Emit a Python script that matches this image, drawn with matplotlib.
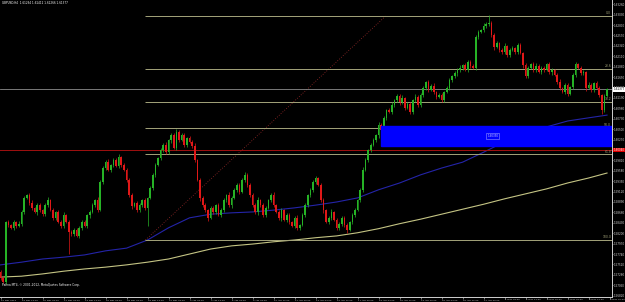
import matplotlib
matplotlib.use("Agg")
import matplotlib.pyplot as plt
from matplotlib.patches import Rectangle

# ---------- data (GBPUSD H4) ----------
first_open = 1.5735
closes = [
    1.5721, 1.5712, 1.5845, 1.5838, 1.5832, 1.5845, 1.5836, 1.5840, 1.5867, 1.5898,
    1.5904, 1.5887, 1.5876, 1.5867, 1.5882, 1.5871, 1.5862, 1.5882, 1.5893, 1.5871,
    1.5854, 1.5867, 1.5845, 1.5836, 1.5860, 1.5845, 1.5823, 1.5818, 1.5827, 1.5814,
    1.5832, 1.5845, 1.5836, 1.5860, 1.5867, 1.5882, 1.5893, 1.5871, 1.5933, 1.5964,
    1.5977, 1.5960, 1.5971, 1.5982, 1.5969, 1.5988, 1.5971, 1.5960, 1.5938, 1.5904,
    1.5880, 1.5887, 1.5871, 1.5882, 1.5893, 1.5876, 1.5898, 1.5920, 1.5949, 1.5971,
    1.5986, 1.6004, 1.6015, 1.5999, 1.6026, 1.6037, 1.6008, 1.6044, 1.6026, 1.6037,
    1.6015, 1.6030, 1.6022, 1.6013, 1.5982, 1.5938, 1.5898, 1.5882, 1.5871, 1.5854,
    1.5876, 1.5867, 1.5882, 1.5860, 1.5871, 1.5893, 1.5904, 1.5882, 1.5898, 1.5916,
    1.5927, 1.5911, 1.5938, 1.5949, 1.5927, 1.5904, 1.5882, 1.5867, 1.5893, 1.5882,
    1.5860, 1.5876, 1.5893, 1.5904, 1.5882, 1.5867, 1.5854, 1.5871, 1.5849, 1.5860,
    1.5845, 1.5836, 1.5854, 1.5832, 1.5838, 1.5860, 1.5882, 1.5904, 1.5916, 1.5933,
    1.5942, 1.5927, 1.5893, 1.5871, 1.5845, 1.5854, 1.5867, 1.5849, 1.5832, 1.5840,
    1.5854, 1.5838, 1.5827, 1.5845, 1.5860, 1.5871, 1.5893, 1.5916, 1.5960, 1.5982,
    1.6004, 1.6015, 1.6026, 1.6037, 1.6059, 1.6048, 1.6075, 1.6092, 1.6088, 1.6103,
    1.6114, 1.6123, 1.6110, 1.6119, 1.6097, 1.6106, 1.6088, 1.6114, 1.6121, 1.6103,
    1.6125, 1.6141, 1.6154, 1.6137, 1.6145, 1.6132, 1.6121, 1.6125, 1.6114, 1.6132,
    1.6141, 1.6159, 1.6167, 1.6174, 1.6181, 1.6185, 1.6192, 1.6181, 1.6198, 1.6190,
    1.6185, 1.6254, 1.6265, 1.6269, 1.6278, 1.6282, 1.6285, 1.6258, 1.6232, 1.6240,
    1.6225, 1.6220, 1.6234, 1.6214, 1.6225, 1.6229, 1.6220, 1.6236, 1.6218, 1.6192,
    1.6167, 1.6185, 1.6194, 1.6181, 1.6190, 1.6176, 1.6185, 1.6181, 1.6194, 1.6176,
    1.6181, 1.6170, 1.6154, 1.6141, 1.6132, 1.6148, 1.6128, 1.6143, 1.6170, 1.6194,
    1.6185, 1.6174, 1.6176, 1.6141, 1.6148, 1.6137, 1.6152, 1.6141, 1.6125, 1.6092,
    1.6123, 1.6138,
]
# wick lengths in pips above / below the candle body
up_wick = [
    3, 4, 2, 5, 3, 4, 3, 6, 4, 5, 3, 4, 6, 3, 4, 5, 3, 4, 6, 3,
    4, 3, 5, 4, 6, 3, 4, 3, 5, 4, 3, 4, 5, 3, 4, 5, 3, 6, 4, 5,
    4, 6, 3, 5, 4, 8, 3, 4, 3, 4, 5, 3, 4, 5, 3, 4, 3, 4, 5, 4,
    3, 5, 4, 6, 3, 5, 4, 7, 3, 4, 5, 3, 4, 5, 6, 3, 4, 5, 4, 3,
    4, 5, 3, 4, 5, 4, 3, 6, 4, 5, 3, 4, 5, 6, 4, 3, 5, 4, 6, 3,
    4, 5, 3, 4, 6, 3, 4, 5, 3, 4, 5, 3, 4, 6, 3, 5, 4, 3, 5, 4,
    5, 3, 4, 5, 3, 4, 6, 3, 4, 5, 3, 4, 5, 3, 4, 5, 3, 4, 6, 4,
    3, 5, 4, 3, 6, 4, 5, 3, 4, 6, 3, 5, 4, 6, 3, 4, 5, 3, 6, 4,
    5, 4, 3, 5, 4, 6, 3, 5, 4, 3, 4, 5, 3, 4, 5, 6, 3, 4, 5, 4,
    3, 4, 5, 3, 6, 4, 17, 3, 4, 5, 3, 4, 6, 3, 4, 5, 3, 4, 5, 3,
    4, 5, 3, 4, 6, 3, 4, 5, 3, 4, 5, 3, 4, 6, 3, 4, 5, 3, 4, 5,
    3, 4, 5, 3, 6, 4, 3, 5, 4, 3, 4, 3,
]
down_wick = [
    4, 3, 5, 4, 3, 5, 4, 3, 4, 5, 3, 4, 5, 3, 6, 4, 3, 5, 4, 3,
    5, 4, 3, 5, 4, 3, 50, 4, 5, 3, 4, 5, 3, 4, 6, 3, 4, 5, 3, 4,
    5, 3, 4, 5, 3, 6, 4, 3, 5, 4, 6, 3, 4, 5, 3, 4, 40, 3, 4, 5,
    3, 4, 5, 3, 4, 6, 3, 4, 5, 3, 4, 5, 3, 4, 5, 3, 6, 4, 5, 8,
    3, 4, 5, 3, 4, 5, 3, 4, 6, 3, 4, 5, 3, 4, 5, 3, 4, 5, 6, 3,
    4, 5, 3, 4, 5, 3, 4, 6, 3, 4, 5, 3, 4, 5, 6, 3, 4, 5, 3, 4,
    5, 3, 4, 6, 3, 4, 5, 3, 4, 5, 3, 4, 6, 3, 4, 5, 3, 4, 5, 3,
    4, 5, 3, 4, 6, 3, 4, 5, 3, 4, 5, 3, 6, 4, 5, 3, 4, 5, 3, 4,
    5, 3, 4, 6, 3, 4, 5, 3, 4, 5, 3, 4, 5, 3, 6, 4, 5, 3, 4, 5,
    3, 4, 5, 3, 4, 5, 3, 4, 6, 3, 4, 5, 3, 4, 5, 3, 4, 5, 3, 6,
    4, 5, 3, 4, 5, 3, 4, 5, 3, 4, 6, 3, 4, 5, 3, 4, 5, 3, 4, 5,
    3, 4, 5, 6, 3, 4, 5, 3, 4, 8, 4, 3,
]

# moving averages, read every 8 bars
ma_bars = [0, 8, 16, 24, 32, 40, 48, 56, 64, 72, 80, 88, 96, 104, 112, 120,
           128, 136, 144, 152, 160, 168, 176, 184, 192, 200, 208, 216, 224, 231]
ma_blue = [1.5750, 1.5756, 1.5763, 1.5767, 1.5772, 1.5781, 1.5787, 1.5805, 1.5832, 1.5854,
           1.5862, 1.5865, 1.5867, 1.5871, 1.5876, 1.5882, 1.5889, 1.5898, 1.5916, 1.5931,
           1.5949, 1.5964, 1.5977, 1.5999, 1.6022, 1.6039, 1.6055, 1.6068, 1.6075, 1.6081]
ma_yellow = [1.5723, 1.5725, 1.5730, 1.5736, 1.5741, 1.5745, 1.5750, 1.5756, 1.5763, 1.5774,
             1.5785, 1.5792, 1.5796, 1.5801, 1.5805, 1.5810, 1.5814, 1.5821, 1.5830, 1.5841,
             1.5851, 1.5862, 1.5873, 1.5884, 1.5896, 1.5907, 1.5918, 1.5931, 1.5942, 1.5953]

fib_start_bar = 55.2
fib_end_bar = 146.7
fib_low = 1.5805
fib_high = 1.6300
fib_levels = [0.0, 23.6, 38.2, 50.0, 61.8, 100.0]

zone_left_bar = 144.8
zone_top = 1.6057
zone_bottom = 1.6013
red_level = 1.6004
bid = 1.61377

time_labels = ["16 Mar 2012", "19 Mar 12:00", "20 Mar 20:00", "22 Mar 04:00", "23 Mar 12:00",
               "26 Mar 20:00", "28 Mar 04:00", "29 Mar 12:00", "30 Mar 20:00", "3 Apr 04:00",
               "4 Apr 12:00", "5 Apr 20:00", "9 Apr 04:00", "10 Apr 12:00", "11 Apr 20:00",
               "13 Apr 04:00", "16 Apr 12:00", "17 Apr 20:00", "19 Apr 04:00", "20 Apr 12:00",
               "23 Apr 20:00", "25 Apr 04:00", "26 Apr 12:00", "27 Apr 20:00", "1 May 04:00",
               "2 May 12:00", "3 May 20:00", "7 May 04:00", "8 May 12:00", "9 May 20:00"]
price_ticks = [1.5682 + 0.0023 * k for k in range(29)]

# ---------- figure ----------
W, H = 625, 302
fig = plt.figure(figsize=(W / 100, H / 100), dpi=100, facecolor="black")
ax = fig.add_axes([0, 5 / H, 612 / W, 297 / H], facecolor="black")
ax.set_xlim(-0.2, 232.9)
ax.set_ylim(1.5679, 1.63354)

green = "#26b326"
red = "#e01818"
fibc = "#a4a47a"

# moving averages
ax.plot(ma_bars, ma_yellow, color="#c4c484", lw=0.8, zorder=2)
ax.plot(ma_bars, ma_blue, color="#2424a8", lw=0.8, zorder=2)

# candles
opens = [first_open] + closes[:-1]
for i, (o, c) in enumerate(zip(opens, closes)):
    col = green if c >= o else red
    hi = max(o, c) + up_wick[i] * 0.0001
    lo = min(o, c) - down_wick[i] * 0.0001
    ax.vlines(i, lo, hi, color=col, lw=0.5, zorder=3)
    ax.bar(i, max(abs(c - o), 0.00005), bottom=min(o, c), width=0.62,
           color=col, linewidth=0, zorder=3)

# fibonacci retracement
ax.plot([fib_start_bar, fib_end_bar], [fib_low, fib_high], color="#9a2a2a",
        lw=0.6, ls=(0, (1, 2)), zorder=2)
for lv in fib_levels:
    p = fib_high - (fib_high - fib_low) * lv / 100
    ax.hlines(p, fib_start_bar, 233, color=fibc, lw=0.7, zorder=2)
    ax.text(232.6, p + 0.0002, f"{lv:.1f}", color=fibc, fontsize=2.2,
            ha="right", va="bottom", zorder=6)

# zone rectangle
ax.add_patch(Rectangle((zone_left_bar, zone_bottom), 240 - zone_left_bar,
                       zone_top - zone_bottom, color="#0000ff", zorder=4))
ax.text(187.5, (zone_top + zone_bottom) / 2, "1.60350", color="#c8c8ff", fontsize=2,
        ha="center", va="center", zorder=5,
        bbox=dict(boxstyle="square,pad=0.3", fc="#0000ff", ec="#9090ff", lw=0.4))

# horizontal lines
ax.axhline(red_level, color="#a01010", lw=0.7, zorder=2)
ax.axhline(bid, color="#8c8c8c", lw=0.6, zorder=2)

# axes styling
for s in ["top", "left"]:
    ax.spines[s].set_visible(False)
ax.spines["right"].set_color("#d0d0d0")
ax.spines["bottom"].set_color("#d0d0d0")
ax.spines["right"].set_linewidth(0.7)
ax.spines["bottom"].set_linewidth(0.7)
ax.yaxis.tick_right()
ax.set_yticks(price_ticks)
ax.set_yticklabels([f"{p:.5f}" for p in price_ticks])
ax.set_xticks(range(0, 8 * len(time_labels), 8))
ax.set_xticklabels(time_labels, ha="left")
ax.tick_params(axis="y", colors="#d0d0d0", labelsize=1.95, length=1.0, width=0.4, pad=0.5)
ax.tick_params(axis="x", colors="#d0d0d0", labelsize=1.75, length=1.2, width=0.4, pad=0.6)

# price boxes on the right axis
ax.text(233.5, bid, f"{bid:.5f}", color="black", fontsize=1.95, va="center", ha="left",
        bbox=dict(boxstyle="square,pad=0.12", fc="white", ec="none"), clip_on=False, zorder=7)
ax.text(233.5, red_level, f"{red_level:.5f}", color="white", fontsize=1.95, va="center",
        ha="left", bbox=dict(boxstyle="square,pad=0.12", fc="#e00000", ec="none"),
        clip_on=False, zorder=7)

# texts
ax.text(0.004, 0.995, "GBPUSD,H4  1.61294 1.61412 1.61266 1.61377", transform=ax.transAxes,
        color="white", fontsize=2.0, va="top", ha="left")
ax.text(0.004, 0.035, "Pafina MT4, \u00a9 2001-2012, MetaQuotes Software Corp.",
        transform=ax.transAxes, color="white", fontsize=2.1, va="bottom", ha="left")

fig.savefig("out.png", dpi=100, facecolor="black")
